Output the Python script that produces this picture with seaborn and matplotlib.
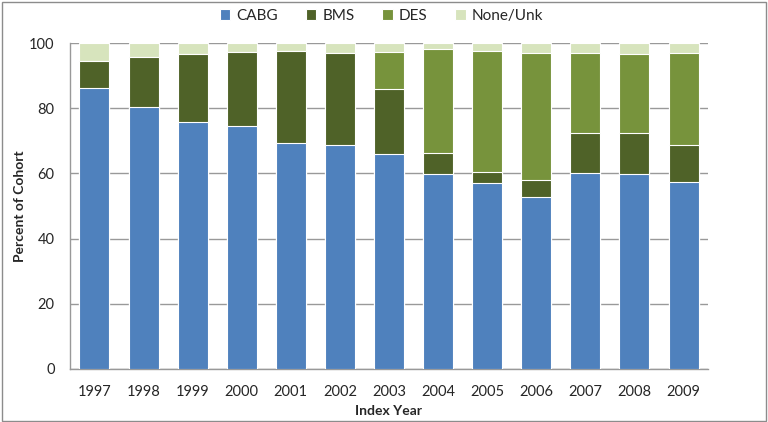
import numpy as np
import pandas as pd
import matplotlib.pyplot as plt
import seaborn as sns
from matplotlib.patches import Rectangle

years = ['1997', '1998', '1999', '2000', '2001', '2002', '2003',
         '2004', '2005', '2006', '2007', '2008', '2009']
cabg = [86.1, 80.5, 75.8, 74.4, 69.3, 68.8, 65.9, 59.8, 56.9, 52.7, 60.2, 59.8, 57.4]
bms = [8.4, 15.1, 20.7, 22.8, 28.2, 28.2, 19.9, 6.5, 3.4, 5.3, 12.2, 12.7, 11.4]
des = [0.0, 0.0, 0.0, 0.0, 0.0, 0.0, 11.6, 31.9, 37.4, 39.0, 24.6, 24.0, 28.2]
none_unk = [5.5, 4.4, 3.5, 2.8, 2.5, 3.0, 2.6, 1.8, 2.3, 3.0, 3.0, 3.5, 3.0]

series = ['CABG', 'BMS', 'DES', 'None/Unk']
colors = ['#4F81BD', '#4F6228', '#77933C', '#D7E4BD']

df = pd.DataFrame({'year': years, 'CABG': cabg, 'BMS': bms, 'DES': des, 'None/Unk': none_unk})
# cumulative tops, drawn from the tallest down so each layer covers the one below
cum = df[series].cumsum(axis=1)

sns.set_style('white')
plt.rcParams['font.family'] = ['Lato', 'DejaVu Sans']

fig = plt.figure(figsize=(7.68, 4.22), dpi=100)
ax = fig.add_axes([0.091, 0.126, 0.831, 0.772])

for name, col in reversed(list(zip(series, colors))):
    sns.barplot(x=df['year'], y=cum[name], color=col, saturation=1, width=0.61,
                edgecolor='white', linewidth=0.8, ax=ax, label=name, zorder=3)
if ax.get_legend() is not None:
    ax.get_legend().remove()

ax.set_ylim(0, 100)
ax.set_xlim(-0.5, len(years) - 0.5)
ax.set_yticks([0, 20, 40, 60, 80, 100])
ax.yaxis.grid(True, color='#999999', linewidth=1.0, zorder=0)
ax.set_axisbelow(True)

ax.set_xticks(np.arange(len(years)))
ax.set_xticklabels(years, fontsize=10.5)
ax.set_xticks(np.arange(len(years) + 1) - 0.5, minor=True)
ax.tick_params(axis='x', which='major', length=0, pad=12)
ax.tick_params(axis='x', which='minor', length=5, color='#999999', direction='out')
ax.tick_params(axis='y', length=5, color='#999999', direction='out', labelsize=10.5, pad=6)

for s in ['top', 'right']:
    ax.spines[s].set_visible(False)
for s in ['left', 'bottom']:
    ax.spines[s].set_color('#999999')
    ax.spines[s].set_linewidth(1.0)

ax.set_xlabel('Index Year', fontsize=10, fontweight='bold', labelpad=4)
ax.set_ylabel('Percent of Cohort', fontsize=10, fontweight='bold', labelpad=2)

handles, labels = ax.get_legend_handles_labels()
order = [labels.index(s) for s in series]
leg = fig.legend([handles[i] for i in order], series, loc='center', bbox_to_anchor=(0.497, 0.962),
                 ncol=4, frameon=False, fontsize=11, handlelength=0.7, handleheight=0.7,
                 columnspacing=1.8, handletextpad=0.4)

fig.patches.append(Rectangle((0.002, 0.003), 0.995, 0.993, transform=fig.transFigure,
                             fill=False, edgecolor='#8c8c8c', linewidth=1.0))

fig.savefig('out.png', dpi=100)
